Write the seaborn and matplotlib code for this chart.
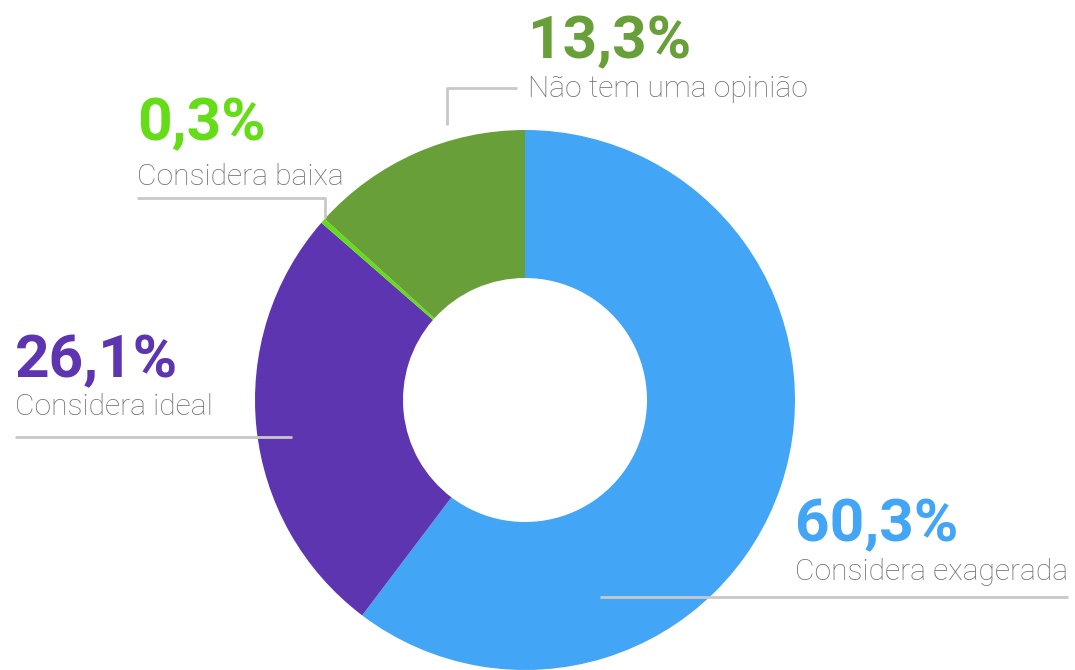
import matplotlib.pyplot as plt
import seaborn as sns

# data
categories = ['Considera exagerada', 'Considera ideal', 'Considera baixa', 'Não tem uma opinião']
values = [60.3, 26.1, 0.3, 13.3]
pct_labels = ['60,3%', '26,1%', '0,3%', '13,3%']
colors = ['#42A5F5', '#5E35B1', '#64DD17', '#689F38']

sns.set_theme(style='white')
plt.rcParams['font.family'] = ['Roboto', 'DejaVu Sans']

W, H = 1075, 670
fig = plt.figure(figsize=(W / 100, H / 100), dpi=100)
ax = fig.add_axes([0, 0, 1, 1])

cx, cy, r = 525, H - 400, 270
ax.pie(values, colors=colors, startangle=90, counterclock=False,
       center=(cx, cy), radius=r, wedgeprops=dict(width=r - 122, linewidth=0),
       frame=True)
ax.set_xlim(0, W)
ax.set_ylim(0, H)
ax.set_aspect('equal')
ax.axis('off')

line_kw = dict(color='#c8c8c8', lw=2, solid_capstyle='butt', zorder=5)

def py(v):
    return H - v

# label positions: (x, pct baseline, label baseline)
layout = {
    'Considera exagerada': (795, 541, 580),
    'Considera ideal': (15, 377, 415),
    'Considera baixa': (137, 140, 185),
    'Não tem uma opinião': (528, 58, 97),
}

for cat, pct, col in zip(categories, pct_labels, colors):
    x, b1, b2 = layout[cat]
    ax.text(x, py(b1), pct, color=col, fontsize=43.5, fontweight='bold',
            ha='left', va='baseline')
    ax.text(x, py(b2), cat, color='#6e6e6e', fontsize=21.6, fontweight='light',
            ha='left', va='baseline')

# leader lines
ax.plot([600, 1068], [py(597), py(597)], **line_kw)
ax.plot([15, 292], [py(437), py(437)], **line_kw)
ax.plot([137, 325, 325], [py(198), py(198), py(218)], **line_kw)
ax.plot([447, 447, 517], [py(125), py(88), py(88)], **line_kw)

plt.savefig('out.png', dpi=100)
